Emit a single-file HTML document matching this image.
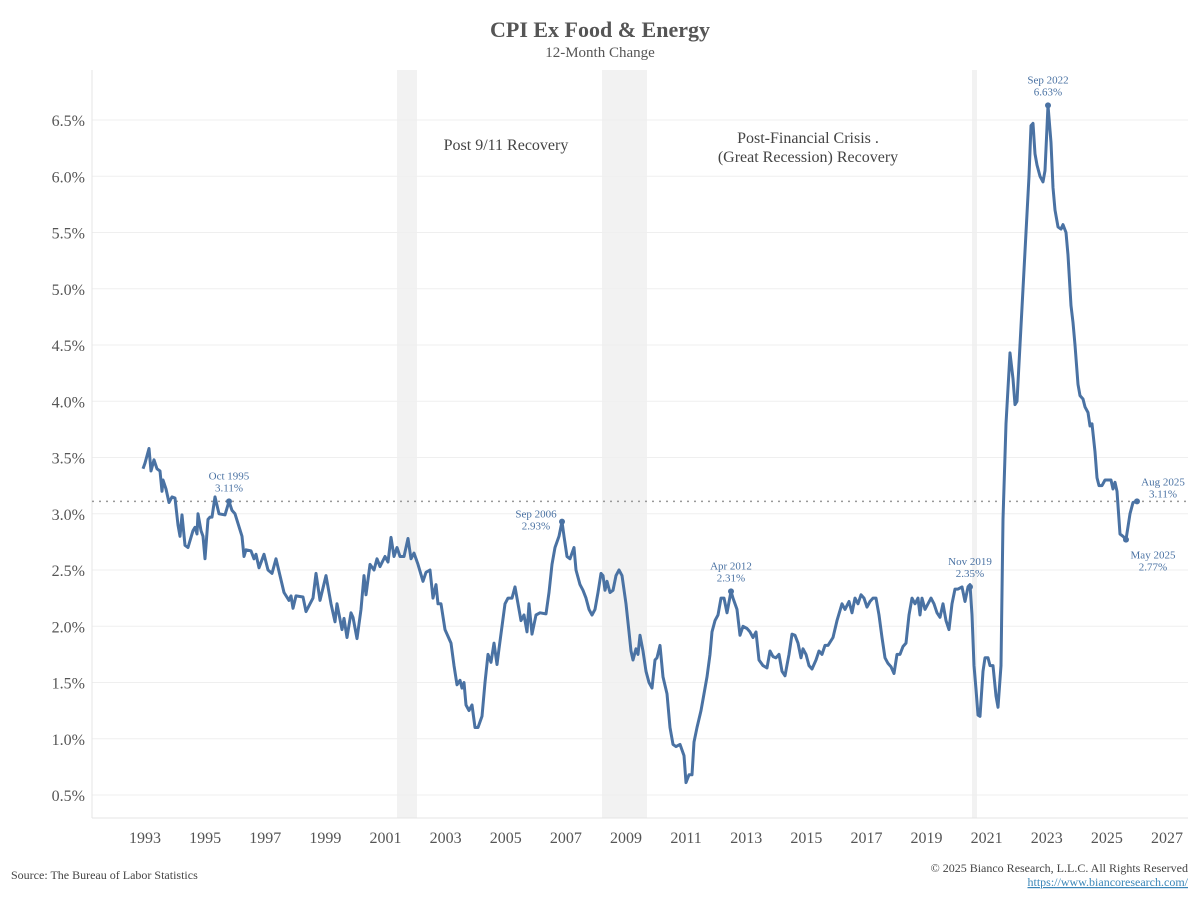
<!DOCTYPE html>
<html><head><meta charset="utf-8"><style>
body{margin:0;background:#fff;}
svg{display:block;font-family:"Liberation Serif",serif;}
</style></head><body>
<svg id="chart" width="1200" height="900">
<text x="600" y="37" text-anchor="middle" font-size="22" font-weight="bold" fill="#555">CPI Ex Food &amp; Energy</text>
<text x="600" y="57" text-anchor="middle" font-size="15" fill="#555">12-Month Change</text>
<g id="recessions"></g><g id="grid"></g><g id="axes"></g><g id="series"></g><g id="annots"></g>
<text x="506" y="150" text-anchor="middle" font-size="16" fill="#444">Post 9/11 Recovery</text>
<text x="808" y="143" text-anchor="middle" font-size="16" fill="#444">Post-Financial Crisis .</text>
<text x="808" y="162" text-anchor="middle" font-size="16" fill="#444">(Great Recession) Recovery</text>
<text x="11" y="879" font-size="12" fill="#444">Source: The Bureau of Labor Statistics</text>
<text x="1188" y="872" text-anchor="end" font-size="12" fill="#444">© 2025 Bianco Research, L.L.C. All Rights Reserved</text>
<text x="1188" y="886" text-anchor="end" font-size="12" fill="#3a86b8" text-decoration="underline">https://www.biancoresearch.com/</text>
</svg>
<script>
// months since Jan 1993
const months=[-0.8,0,1.6,2.4,3.6,4.8,6,6.8,7.2,8.4,9.6,10.8,12,13.2,14,14.8,16,17.2,19.2,20,20.8,21.2,22.4,23.2,24,25.2,26,26.8,28,29.6,32,33.6,34.8,36,38.8,39.6,40.4,42.4,43.6,44.4,45.6,47.6,49.2,50.8,52.4,54,55.6,57.6,58.4,59.2,60.4,63.2,64.4,66,67.2,68.4,70,72.4,74.4,76,76.8,78.8,79.6,80.8,82.4,83.2,84.8,86.4,87.6,88.4,90,91.6,92.8,94,96,97.2,98.4,99.6,100.8,102,103.6,105.2,106.4,107.6,109.2,111.2,112.4,114,115.2,116.4,117.2,118.4,120,122.4,123.6,124.8,126,126.8,127.6,128.4,129.6,130.8,132,133.2,134.8,136,137.2,138.4,139.6,140.8,141.6,142.8,144,145.2,146.8,148,149.2,150.4,151.6,152.8,153.6,154.8,156.4,158,160.4,161.6,162.8,164,165.6,166.8,167.6,168.8,170,171.6,172.4,174,175.2,176.4,177.6,178.8,180,181.2,182.4,183.2,184,184.8,186,187.2,188.4,189.6,190.8,192.4,193.6,194.4,195.2,196.4,197.2,198,199.2,200.4,201.6,202.8,204,204.8,206,207.2,208.8,210,211.2,212.4,214,215.6,216.4,217.6,218.8,219.6,220.8,222.4,223.6,224.8,226,226.8,228,229.2,230.4,231.6,232.8,234.4,235.2,236.8,238,239.2,240.8,242,243.2,244.4,245.6,247.2,248.8,250,251.2,252.4,253.6,254.8,256,257.6,258.8,260,261.2,262.4,263.2,264.4,265.6,266.8,268.4,269.6,270.8,272,273.2,275.2,276.8,278.8,280,281.6,282.8,284,285.2,286.4,287.6,288.8,290,291.2,292.4,293.6,294.8,296,297.2,298.4,299.6,300.8,302,303.2,304.4,305.6,306.8,308,309.2,310,310.8,312,313.2,314.4,315.6,316.8,318,319.2,320.4,321.6,322.8,324,325.2,326.8,328,329.2,330,330.8,331.6,332.4,333.2,334,335.2,336,337.2,338,339.2,340.4,341.2,342.4,343.2,344.4,346,347.2,348,348.8,350,351.2,352.4,353.6,354.4,355.2,356,356.8,358,359.2,360,361.2,362.4,363.2,364,365.2,366.4,367.2,368.4,369.2,370.4,371.2,372,373.2,374,375.2,376,377.2,378,378.8,380,380.8,381.6,382.8,384,384.8,386.4,387.2,388,388.8,390,391.2,392.4,394,395.2,396.8];
const values=[3.4,3.45,3.58,3.38,3.48,3.4,3.38,3.2,3.3,3.22,3.1,3.15,3.14,2.9,2.8,2.99,2.72,2.7,2.85,2.88,2.82,3.0,2.85,2.8,2.6,2.95,2.97,2.97,3.15,3.0,2.99,3.11,3.03,3.0,2.8,2.62,2.68,2.67,2.6,2.64,2.52,2.64,2.5,2.47,2.6,2.45,2.3,2.23,2.27,2.16,2.27,2.26,2.13,2.2,2.25,2.47,2.23,2.45,2.2,2.04,2.2,1.97,2.07,1.9,2.12,2.08,1.89,2.15,2.45,2.28,2.55,2.5,2.6,2.53,2.62,2.57,2.79,2.62,2.7,2.62,2.62,2.78,2.6,2.65,2.55,2.4,2.48,2.5,2.25,2.37,2.2,2.2,1.97,1.85,1.65,1.48,1.52,1.45,1.5,1.3,1.25,1.3,1.1,1.1,1.2,1.5,1.75,1.68,1.85,1.66,1.8,2.0,2.2,2.25,2.25,2.35,2.2,2.05,2.1,1.95,2.2,1.93,2.1,2.12,2.11,2.3,2.55,2.7,2.8,2.93,2.8,2.62,2.6,2.7,2.5,2.37,2.32,2.25,2.15,2.1,2.15,2.3,2.47,2.45,2.32,2.4,2.3,2.32,2.45,2.5,2.45,2.2,1.95,1.78,1.7,1.8,1.75,1.92,1.78,1.6,1.5,1.45,1.7,1.72,1.83,1.55,1.4,1.1,0.95,0.93,0.95,0.85,0.61,0.68,0.68,0.97,1.1,1.25,1.4,1.55,1.75,1.95,2.05,2.1,2.25,2.25,2.12,2.31,2.25,2.15,1.92,2.0,1.98,1.95,1.9,1.95,1.7,1.65,1.63,1.78,1.73,1.72,1.75,1.6,1.56,1.75,1.93,1.92,1.85,1.72,1.8,1.75,1.65,1.62,1.7,1.78,1.75,1.83,1.83,1.9,2.05,2.2,2.15,2.22,2.12,2.25,2.2,2.28,2.25,2.17,2.22,2.25,2.25,2.1,1.9,1.72,1.67,1.64,1.58,1.75,1.75,1.82,1.85,2.1,2.25,2.2,2.25,2.1,2.25,2.15,2.2,2.25,2.2,2.12,2.08,2.2,2.05,1.97,2.2,2.33,2.33,2.35,2.22,2.35,2.37,2.1,1.65,1.44,1.21,1.2,1.6,1.72,1.72,1.65,1.65,1.38,1.28,1.65,2.95,3.8,4.43,4.2,3.97,4.0,4.5,5.0,5.5,6.0,6.45,6.47,6.2,6.1,6.0,5.95,6.05,6.63,6.3,5.9,5.7,5.55,5.53,5.57,5.5,5.3,4.85,4.7,4.5,4.15,4.05,4.02,3.95,3.9,3.78,3.8,3.55,3.32,3.25,3.25,3.3,3.3,3.3,3.22,3.28,3.2,2.82,2.8,2.77,3.0,3.1,3.11];
const yTicks=[0.5,1.0,1.5,2.0,2.5,3.0,3.5,4.0,4.5,5.0,5.5,6.0,6.5];
const xTicks=[1993,1995,1997,1999,2001,2003,2005,2007,2009,2011,2013,2015,2017,2019,2021,2023,2025,2027];
const recStart=[100.8,182.8,330.8];
const recEnd=[108.8,200.8,332.8];
const refValue=3.11;
const annLabels=[["Oct 1995","3.11%"],["Sep 2006","2.93%"],["Apr 2012","2.31%"],["Nov 2019","2.35%"],["Sep 2022","6.63%"],["May 2025","2.77%"],["Aug 2025","3.11%"]];
const annMonths=[33.6,166.8,234.4,330,361.2,392.4,396.8];
const annValues=[3.11,2.93,2.31,2.35,6.63,2.77,3.11];

const NS="http://www.w3.org/2000/svg";
const X=m=>145+m*2.5;
const XY=y=>145+(y-1993)*30.06;
const Y=v=>795-(v-0.5)*112.5;
const L=92,R=1188,T=70,B=818;
function mk(tag,attrs,parent){const e=document.createElementNS(NS,tag);for(const k in attrs)e.setAttribute(k,attrs[k]);document.getElementById(parent).appendChild(e);return e;}
recStart.forEach((s,i)=>{const r=mk('rect',{x:X(s),y:T,width:X(recEnd[i])-X(s),height:B-T,fill:'#f2f2f2'},'recessions');

});
yTicks.forEach(v=>{const g=mk('line',{x1:L,x2:R,y1:Y(v),y2:Y(v),stroke:'#efefef','stroke-width':1},'grid');


const t=mk('text',{x:85,y:Y(v)+6,'text-anchor':'end','font-size':'16',fill:'#555'},'axes');t.textContent=v.toFixed(1)+'%';

});
const ax=mk('line',{x1:L,x2:L,y1:T,y2:B,stroke:'#e4e4e4'},'axes');


const bx=mk('line',{x1:L,x2:R,y1:B,y2:B,stroke:'#e4e4e4'},'axes');


xTicks.forEach(y=>{const t=mk('text',{x:XY(y),y:843,'text-anchor':'middle','font-size':'16',fill:'#555'},'axes');t.textContent=y;

});
const ref=mk('line',{x1:L,x2:R,y1:Y(refValue),y2:Y(refValue),stroke:'#999','stroke-width':1.5,'stroke-dasharray':'2 5'},'series');


const d=months.map((m,i)=>(i?'L':'M')+X(m).toFixed(1)+','+Y(values[i]).toFixed(1)).join('');
const p=mk('path',{d:d,fill:'none',stroke:'#4a72a3','stroke-width':3,'stroke-linejoin':'round'},'series');


const below={"May 2025":1};
annLabels.forEach((lab,i)=>{const cx=X(annMonths[i]),cy=Y(annValues[i]);
const c=mk('circle',{cx:cx,cy:cy,r:3,fill:'#4a72a3'},'annots');


let tx=cx,ty1=cy-22;
if(lab[0]==="Sep 2006"){tx=cx-26;ty1=cy-4;}
if(lab[0]==="Aug 2025"){tx=cx+26;ty1=cy-16;}
if(below[lab[0]]){tx=cx+27;ty1=cy+19;}
const t1=mk('text',{x:tx,y:ty1,'text-anchor':'middle','font-size':'11',fill:'#4a72a3'},'annots');t1.textContent=lab[0];


const t2=mk('text',{x:tx,y:ty1+12,'text-anchor':'middle','font-size':'11',fill:'#4a72a3'},'annots');t2.textContent=lab[1];

});
</script>
</body></html>
